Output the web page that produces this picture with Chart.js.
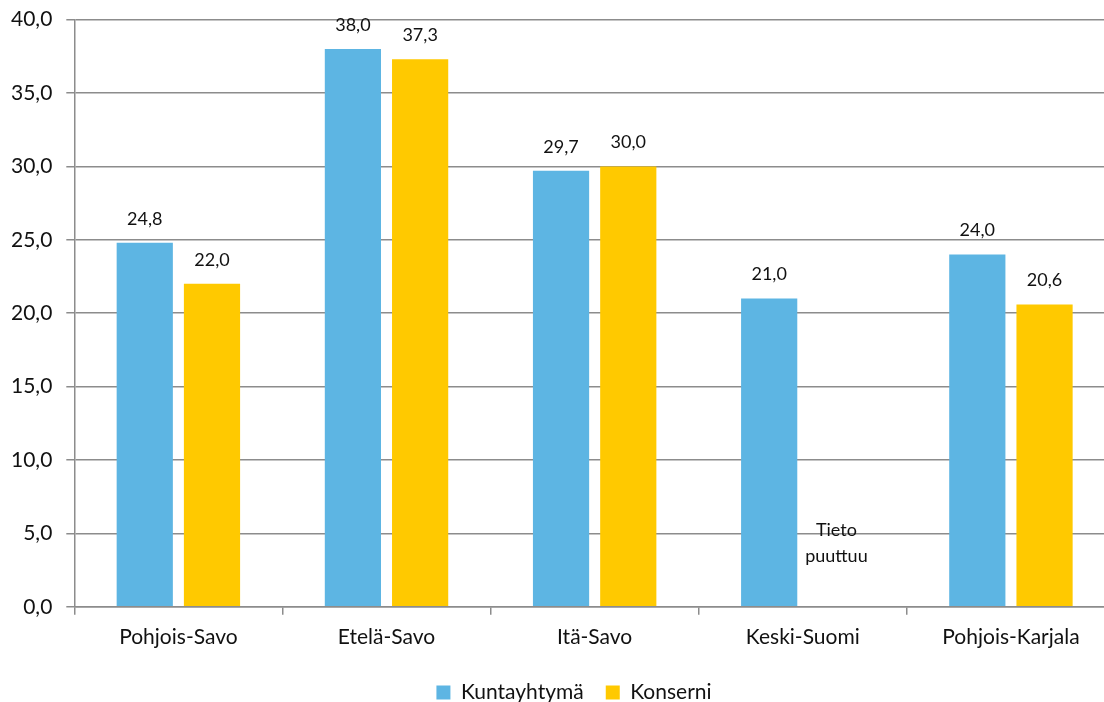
<!DOCTYPE html>
<html>
<head>
<meta charset="utf-8">
<script src="https://cdn.jsdelivr.net/npm/chart.js@4.4.0/dist/chart.umd.min.js"></script>
<style>
  html, body { margin: 0; padding: 0; background: #fff; overflow: hidden; }
  #wrap { width: 1118px; height: 720px; margin-top: -7px; margin-left: -3px; position: relative; }
</style>
</head>
<body>
<div id="wrap"><canvas id="kaavio"></canvas></div>
<script>
// arvot luettu kuvasta
let alueet = ["Pohjois-Savo", "Etelä-Savo", "Itä-Savo", "Keski-Suomi", "Pohjois-Karjala"];
let kuntayhtyma = [24.8, 38.0, 29.7, 21.0, 24.0];
let konserni = [22.0, 37.3, 30.0, null, 20.6];
let sarjat = ["Kuntayhtymä", "Konserni"];
let puuttuvaTeksti = ["Tieto", "puuttuu"];

const fontti = "Lato, 'Open Sans', sans-serif";

function muotoile(v) {
    return v.toFixed(1).replace(".", ",");
}

// arvot palkkien päälle
const arvoPlugin = {
    id: "arvot",
    afterLayout(chart) {
        // selite hieman oikealle kuten alkuperäisessä
        if (chart.legend) {
            chart.legend.left += 18;
            chart.legend.right += 18;
        }
    },
    afterDatasetsDraw(chart) {
        let ctx = chart.ctx;
        ctx.save();
        ctx.font = "18px " + fontti;
        ctx.fillStyle = "#111";
        ctx.textAlign = "center";
        ctx.textBaseline = "middle";
        chart.data.datasets.forEach((ds, i) => {
            let meta = chart.getDatasetMeta(i);
            meta.data.forEach((bar, j) => {
                let v = ds.data[j];
                if (v === null) {
                    // puuttuva tieto
                    let x = bar.x;
                    if (!isFinite(x)) x = chart.scales.x.getPixelForValue(j) + 33;
                    let y = chart.scales.y.getPixelForValue(5);
                    ctx.fillText(puuttuvaTeksti[0], x, y - 3);
                    ctx.fillText(puuttuvaTeksti[1], x, y + 23);
                    return;
                }
                ctx.fillText(muotoile(v), bar.x, bar.y - 24);
            });
        });
        ctx.restore();
    }
};

new Chart(document.getElementById("kaavio"), {
    type: "bar",
    data: {
        labels: alueet,
        datasets: [
            {
                label: sarjat[0],
                data: kuntayhtyma,
                backgroundColor: "#5DB5E3",
                categoryPercentage: 0.646,
                barPercentage: 0.836
            },
            {
                label: sarjat[1],
                data: konserni,
                backgroundColor: "#FFC900",
                categoryPercentage: 0.646,
                barPercentage: 0.836
            }
        ]
    },
    options: {
        responsive: true,
        maintainAspectRatio: false,
        animation: false,
        layout: { padding: { top: 2, left: 0, right: 0, bottom: 0 } },
        plugins: {
            legend: {
                position: "bottom",
                labels: {
                    boxWidth: 14,
                    boxHeight: 14,
                    padding: 22,
                    color: "#111",
                    font: { family: fontti, size: 21 }
                }
            },
            tooltip: { enabled: false }
        },
        scales: {
            x: {
                grid: {
                    drawOnChartArea: false,
                    drawTicks: true,
                    tickLength: 8,
                    color: "#8c8c8c",
                    lineWidth: 1.5
                },
                border: { color: "#8c8c8c", width: 1.5 },
                ticks: {
                    color: "#111",
                    padding: 10,
                    font: { family: fontti, size: 21 }
                }
            },
            y: {
                min: 0,
                max: 40,
                ticks: {
                    stepSize: 5,
                    color: "#111",
                    padding: 14,
                    font: { family: fontti, size: 21 },
                    callback: v => muotoile(v)
                },
                grid: {
                    color: "#8c8c8c",
                    lineWidth: 1.5,
                    tickLength: 8
                },
                border: { color: "#8c8c8c", width: 1.5 }
            }
        }
    },
    plugins: [arvoPlugin]
});
</script>
</body>
</html>
